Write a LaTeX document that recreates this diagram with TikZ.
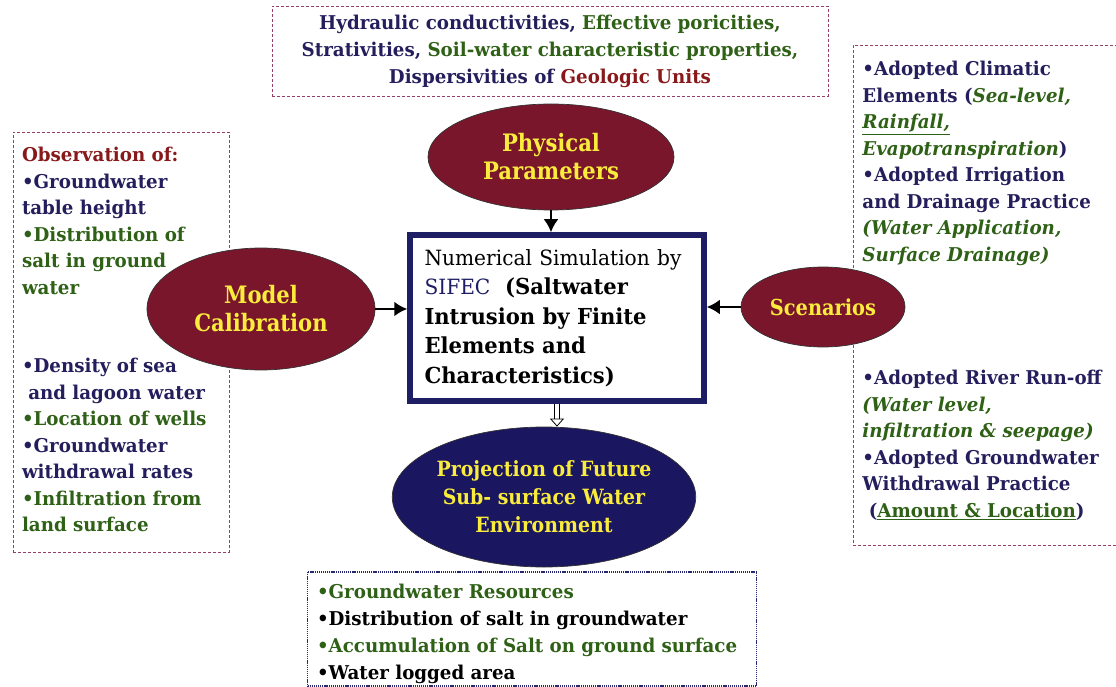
\documentclass[tikz,border=0pt]{standalone}
\usepackage{fontspec}
\setmainfont{DejaVu Serif}[FakeStretch=0.96]
\usetikzlibrary{shapes.geometric,arrows.meta}
\definecolor{ovalred}{RGB}{122,22,44}
\definecolor{ovalnavy}{RGB}{26,22,96}
\definecolor{ovalyellow}{RGB}{250,236,60}
\definecolor{txtnavy}{RGB}{36,30,92}
\definecolor{txtgreen}{RGB}{46,96,22}
\definecolor{txtred}{RGB}{136,24,26}
\definecolor{framered}{RGB}{150,64,104}
\definecolor{framenavy}{RGB}{40,40,112}
\definecolor{simnavy}{RGB}{30,30,100}
\newcommand{\fsz}[2]{\fontsize{#1}{#2}\selectfont}
\newcommand{\gr}[1]{\textcolor{txtgreen}{#1}}
\begin{document}
\begin{tikzpicture}[x=1pt, y=-1pt,
  frame/.style = {draw=framered, dash pattern=on 3pt off 2pt, line width=0.9pt, inner sep=0pt, align=left, text=txtnavy},
  oval/.style = {ellipse, draw=black!80, line width=0.7pt, fill=ovalred, text=ovalyellow, align=center, inner sep=0pt, font=\bfseries\fsz{24}{28}\addfontfeature{FakeStretch=0.88}},
  link/.style = {-{Latex[length=13pt,width=15pt]}, line width=2.5pt}]
\useasboundingbox (0,0) rectangle (1116,687);

\node[frame, align=center, minimum width=556pt, minimum height=90pt, font=\bfseries\fsz{19}{27}] (1) at (550,51)
  {Hydraulic conductivities, \gr{Effective poricities,}\\
   Strativities, \gr{Soil-water characteristic properties,}\\
   Dispersivities of \textcolor{txtred}{Geologic Units}};

\node[frame, minimum width=216pt, minimum height=420pt, text width=198pt, text height=10pt, font=\bfseries\fsz{19}{26.5}] (2) at (121,342)
  {\textcolor{txtred}{Observation of:}\\
   •Groundwater\\
   table height\\
   \gr{•Distribution of}\\
   \gr{salt in ground}\\
   \gr{water}\\[52pt]
   •Density of sea\\
   \ and lagoon water\\
   \gr{•Location of wells}\\
   •Groundwater\\
   withdrawal rates\\
   \gr{•Infiltration from}\\
   \gr{land surface}};

\node[frame, anchor=west, minimum width=270pt, minimum height=500pt, text width=252pt, text height=6pt, font=\bfseries\fsz{19}{26.5}] (3) at (853,295)
  {•Adopted Climatic\\
   Elements (\gr{\itshape Sea-level,}\\
   \gr{\itshape\underline{Rainfall,}}\\
   \gr{\itshape Evapotranspiration})\\
   •Adopted Irrigation\\
   and Drainage Practice\\
   \gr{\itshape (Water Application,}\\
   \gr{\itshape Surface Drainage)}\\[97pt]
   •Adopted River Run-off\\
   \gr{\itshape (Water level,}\\
   \gr{\itshape infiltration \& seepage)}\\
   •Adopted Groundwater\\
   Withdrawal Practice\\
   \ (\gr{\underline{Amount \& Location}})};

\node[frame, draw=framenavy, dash pattern=on 1.2pt off 0.9pt, line width=1.1pt, text=black, minimum width=449pt, minimum height=114pt, text width=430pt, text height=24pt, font=\bfseries\fsz{19}{27}] (9) at (532,629)
  {\gr{•Groundwater Resources}\\
   •Distribution of salt in groundwater\\
   \gr{•Accumulation of Salt on ground surface}\\
   •Water logged area};

\node[draw=simnavy, line width=4.5pt, fill=white, minimum width=295pt, minimum height=167pt, text width=265pt, align=left, font=\bfseries\fsz{22}{29.5}] (5) at (557,318)
  {{\mdseries\fsz{21}{29.5}Numerical Simulation by}\\
   {\mdseries\fsz{21}{29.5}\color{simnavy}SIFEC}\ \ (Saltwater\\
   Intrusion by Finite\\
   Elements and\\
   Characteristics)};
\draw[simnavy, line width=1.2pt] ([shift={(5.5pt,-5.5pt)}]5.north west) rectangle ([shift={(-5.5pt,5.5pt)}]5.south east);

\node[oval, minimum width=246pt, minimum height=106pt] (4) at (551,157) {Physical\\ Parameters};
\node[oval, minimum width=228pt, minimum height=122pt] (6) at (261,309) {Model\\ Calibration};
\node[oval, minimum width=164pt, minimum height=80pt, font=\bfseries\fsz{22}{26}\addfontfeature{FakeStretch=0.88}] (7) at (823,307) {Scenarios};
\node[oval, fill=ovalnavy, minimum width=302pt, minimum height=140pt, font=\bfseries\fsz{21}{28}\addfontfeature{FakeStretch=0.9}] (8) at (544,497)
  {Projection of Future\\ Sub- surface Water\\ Environment};

\draw[link] (4.south) -- (4.south |- 5.north);
\draw[link] (6.east) -- (6.east -| 5.west);
\draw[link] (7.west) -- (7.west -| 5.east);
\draw[double=white, double distance=4pt, line width=0.8pt, -{Triangle[open, length=8pt, width=14pt]}] (5.south) -- (5.south |- 8.north);

\end{tikzpicture}
\end{document}
